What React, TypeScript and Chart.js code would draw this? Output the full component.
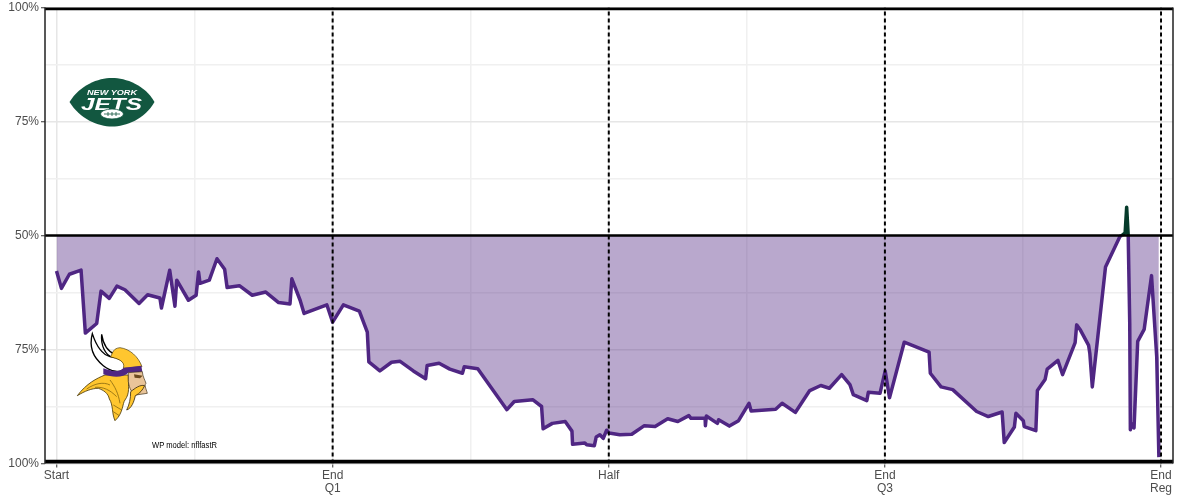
import { useEffect, useRef } from 'react';
import Chart from 'chart.js/auto';

const JETS_GREEN = '#125740';
const JETS_LINE = '#063b2b';
const VIKINGS_PURPLE = '#4f2683';
const VIKINGS_GOLD = '#ffc62f';

// game clock in seconds, jets win probability in percent
const gameSeconds = [
  0, 16, 42, 80, 94, 131, 145, 172, 197, 223, 269, 297, 337, 342, 369, 386, 392, 430, 455, 463,
  468, 498, 523, 548, 556, 596, 638, 682, 724, 761, 767, 794, 807, 881, 900, 935, 987, 1013, 1018, 1054,
  1092, 1120, 1163, 1203, 1208, 1247, 1282, 1323, 1329, 1373, 1468, 1492, 1552, 1581, 1586, 1616, 1658, 1680, 1682, 1722,
  1728, 1753, 1759, 1771, 1782, 1793, 1801, 1836, 1875, 1916, 1951, 1992, 2025, 2061, 2068, 2114, 2115, 2118, 2154, 2158,
  2193, 2223, 2257, 2264, 2344, 2365, 2408, 2455, 2491, 2519, 2559, 2586, 2597, 2641, 2646, 2684, 2701, 2715, 2763, 2844,
  2848, 2883, 2921, 2999, 3037, 3082, 3089, 3122, 3127, 3151, 3154, 3192, 3197, 3222, 3229, 3264, 3279, 3320, 3325, 3336,
  3364, 3368, 3376, 3419, 3466, 3472, 3483, 3488, 3493, 3498, 3500, 3505, 3512, 3524, 3545, 3569, 3586, 3593
];
const jetsWinPct = [
  42.2, 38.4, 41.5, 42.4, 28.6, 30.7, 37.8, 36.2, 38.9, 38.1, 35.1, 37.0, 36.3, 34.1, 42.4, 34.5, 40.2, 35.8, 36.9, 42.0,
  39.5, 40.2, 44.9, 42.6, 38.6, 39.0, 36.9, 37.6, 35.3, 35.0, 40.5, 35.8, 32.9, 34.8, 31.0, 34.8, 33.4, 28.8, 22.3, 20.3,
  22.2, 22.4, 20.3, 18.6, 21.5, 22.0, 20.7, 19.8, 21.2, 20.8, 11.8, 13.6, 14.0, 12.5, 7.6, 8.8, 9.2, 7.1, 4.2, 4.5,
  4.1, 3.9, 5.8, 6.3, 5.5, 7.3, 6.7, 6.3, 6.4, 8.3, 8.1, 9.8, 9.2, 10.5, 9.9, 9.9, 8.3, 10.4, 8.8, 9.6,
  8.2, 9.4, 13.2, 11.5, 11.9, 13.2, 11.2, 16.0, 17.1, 16.5, 19.5, 17.3, 15.1, 13.8, 15.6, 15.4, 20.3, 14.4, 26.6, 24.4,
  19.8, 16.8, 16.2, 11.4, 10.3, 11.3, 4.6, 8.0, 11.0, 9.4, 8.1, 7.2, 16.0, 18.4, 20.7, 22.6, 19.5, 26.5, 30.4, 29.4,
  25.9, 24.1, 16.8, 43.1, 49.8, 50, 50.6, 56.2, 50, 30.7, 7.4, 8.7, 7.8, 26.8, 29.4, 41.2, 23.3, 1.4
];

const xGridValues = [0, 450, 900, 1350, 1800, 2250, 2700, 3150, 3600];
const xTickLabels = ['Start', '', ['End', 'Q1'], '', 'Half', '', ['End', 'Q3'], '', ['End', 'Reg']];
const yGridValues = [0, 12.5, 25, 37.5, 50, 62.5, 75, 87.5, 100];
const yTickLabels = ['100%', '', '75%', '', '50%', '', '75%', '', '100%'];
const quarterEnds = [900, 1800, 2700, 3600];

const xMin = -37.5;
const xMax = 3639;

const panelBorder = {
  id: 'panelBorder',
  afterDatasetsDraw(chart: Chart) {
    const { ctx, chartArea } = chart;
    ctx.save();
    ctx.strokeStyle = '#222';
    ctx.lineWidth = 1.5;
    ctx.beginPath();
    ctx.moveTo(chartArea.left, chartArea.top);
    ctx.lineTo(chartArea.left, chartArea.bottom);
    ctx.moveTo(chartArea.right, chartArea.top);
    ctx.lineTo(chartArea.right, chartArea.bottom);
    ctx.stroke();
    ctx.restore();
  }
};

const hline = (y: number, width: number) => ({
  data: [{ x: xMin, y }, { x: xMax, y }],
  borderColor: '#000',
  borderWidth: width,
  pointRadius: 0,
  fill: false,
  order: 0
});

const vline = (x: number) => ({
  data: [{ x, y: 0 }, { x, y: 100 }],
  borderColor: '#000',
  borderWidth: 2,
  borderDash: [4, 3],
  pointRadius: 0,
  fill: false,
  order: 0
});

function WinProbChart() {
  const chartRef = useRef<HTMLCanvasElement>(null);

  useEffect(() => {
    if (!chartRef.current) return;
    const chart = new Chart(chartRef.current, {
      type: 'line',
      data: {
        datasets: [
          hline(99.8, 3.5),
          hline(50, 2.5),
          hline(0.3, 5),
          ...quarterEnds.map(vline),
          {
            data: gameSeconds.map((x, i) => ({ x, y: jetsWinPct[i] })),
            borderColor: VIKINGS_PURPLE,
            borderWidth: 3.5,
            borderJoinStyle: 'round',
            pointRadius: 0,
            tension: 0,
            order: 1,
            fill: {
              target: { value: 50 },
              above: 'rgba(18, 87, 64, 0.4)',
              below: 'rgba(79, 38, 131, 0.4)'
            },
            segment: {
              borderColor: (c: any) =>
                c.p0.parsed.y >= 50 && c.p1.parsed.y >= 50 ? JETS_LINE : VIKINGS_PURPLE
            }
          }
        ]
      },
      options: {
        animation: false,
        responsive: false,
        devicePixelRatio: 1,
        layout: { padding: { top: 7.5, right: 7 } },
        plugins: { legend: { display: false }, tooltip: { enabled: false } },
        scales: {
          x: {
            type: 'linear',
            min: xMin,
            max: xMax,
            afterBuildTicks: (scale: any) => {
              scale.ticks = xGridValues.map((value) => ({ value }));
            },
            afterFit: (scale: any) => {
              scale.height = 36.5;
              scale.paddingLeft = 0;
              scale.paddingRight = 0;
            },
            border: { display: false },
            grid: {
              color: (c: any) => (c.index % 2 ? '#f0f0f0' : '#e6e6e6'),
              lineWidth: 1.5,
              tickLength: 4,
              tickColor: (c: any) => (c.index % 2 ? 'transparent' : '#333'),
              tickWidth: 1
            },
            ticks: {
              autoSkip: false,
              maxRotation: 0,
              padding: 1,
              color: '#4d4d4d',
              font: { family: 'Liberation Sans', size: 12, lineHeight: 1.12 },
              callback: (_v: any, i: number) => xTickLabels[i]
            }
          },
          y: {
            min: 0,
            max: 100,
            afterBuildTicks: (scale: any) => {
              scale.ticks = yGridValues.map((value) => ({ value }));
            },
            afterFit: (scale: any) => {
              scale.width = 45;
              scale.paddingTop = 0;
              scale.paddingBottom = 0;
            },
            border: { display: false },
            grid: {
              color: (c: any) => (c.index % 2 ? '#f0f0f0' : '#e6e6e6'),
              lineWidth: 1.5,
              tickLength: 4,
              tickColor: (c: any) => (c.index % 2 ? 'transparent' : '#333'),
              tickWidth: 1
            },
            ticks: {
              autoSkip: false,
              padding: 2,
              color: '#4d4d4d',
              font: { family: 'Liberation Sans', size: 12 },
              callback: (_v: any, i: number) => yTickLabels[i]
            }
          }
        }
      },
      plugins: [panelBorder]
    } as any);

    return () => {
      chart.destroy();
    };
  }, []);

  return <canvas ref={chartRef} width={1180} height={500} style={{ display: 'block' }} />;
}

// team marks, no image files available so they are hand drawn
function Logos() {
  return (
    <svg
      width={1180}
      height={500}
      style={{ position: 'absolute', left: 0, top: 0, pointerEvents: 'none' }}
      fontFamily="Liberation Sans"
    >
      <path
        d="M69.5,102 C80,85 98,78 112,78 C126,78 145,85 154.5,102 C145,119 126,126.5 112,126.5 C98,126.5 80,119 69.5,102Z"
        fill={JETS_GREEN}
      />
      <text x={87} y={94.5} fontSize={7} fontWeight="bold" fontStyle="italic" fill="#fff" textLength={50} lengthAdjust="spacingAndGlyphs">
        NEW YORK
      </text>
      <text x={81} y={110} fontSize={16} fontWeight="bold" fontStyle="italic" fill="#fff" textLength={61} lengthAdjust="spacingAndGlyphs">
        JETS
      </text>
      <ellipse cx={112} cy={114} rx={11.5} ry={5} fill="#fff" stroke={JETS_GREEN} strokeWidth={0.8} />
      <path d="M104,114 H120 M108,112 V116 M112,112 V116 M116,112 V116" stroke={JETS_GREEN} strokeWidth={0.8} />

      <g transform="translate(60 325) scale(0.3333)">
        {/* horns */}
        <path d="M125,28 C122,60 135,90 158,98 L165,88 C145,80 130,60 125,28Z" fill="#fff" stroke="#000" strokeWidth={4} />
        <path d="M97,26 C88,60 92,92 130,122 C150,138 185,148 195,128 C200,108 172,98 150,95 C125,88 108,60 97,26Z" fill="#fff" stroke="#000" strokeWidth={4} />
        {/* hair and braid */}
        <path d="M52,212 C80,175 110,160 135,150 L205,150 C205,185 210,205 195,225 C187,235 190,265 165,287 C155,265 160,240 148,222 C145,205 130,195 115,190 C95,190 75,198 52,212Z" fill={VIKINGS_GOLD} stroke="#4a3806" strokeWidth={2.5} />
        <path d="M80,192 C105,175 130,170 150,180 M105,187 C130,185 150,195 170,215 M150,165 C165,185 175,205 180,235 M160,240 L185,255 M160,260 L178,272" fill="none" stroke="#8a6a10" strokeWidth={2.5} />
        {/* helmet */}
        <path d="M152,96 C158,82 160,70 180,68 C210,72 235,95 246,125 L190,130 C198,108 170,100 152,96Z" fill={VIKINGS_GOLD} stroke="#4a3806" strokeWidth={2} />
        <path d="M130,130 C150,137 175,145 192,128 L244,122 L247,140 L205,143 C190,158 160,158 130,148Z" fill={VIKINGS_PURPLE} />
        {/* face */}
        <path d="M205,143 L247,140 C248,155 255,165 258,175 C252,180 258,190 262,205 L228,210 C215,205 208,190 205,170Z" fill="#e9c499" stroke="#3a2a10" strokeWidth={2} />
        <path d="M222,148 L248,152 L240,160 L224,158Z" fill="#6b4a20" />
        {/* moustache */}
        <path d="M212,200 C225,190 240,178 254,182 C248,195 240,205 226,212 C222,230 215,250 200,255 C208,240 212,220 212,200Z" fill={VIKINGS_GOLD} stroke="#3a2a10" strokeWidth={2.5} />
      </g>

      <text x={152} y={448} fontSize={8.6} fill="#000" textLength={65} lengthAdjust="spacingAndGlyphs">
        WP model: nflfastR
      </text>
    </svg>
  );
}

export default function App() {
  return (
    <div style={{ position: 'absolute', left: 0, top: 0, width: 1180, height: 500 }}>
      <WinProbChart />
      <Logos />
    </div>
  );
}
